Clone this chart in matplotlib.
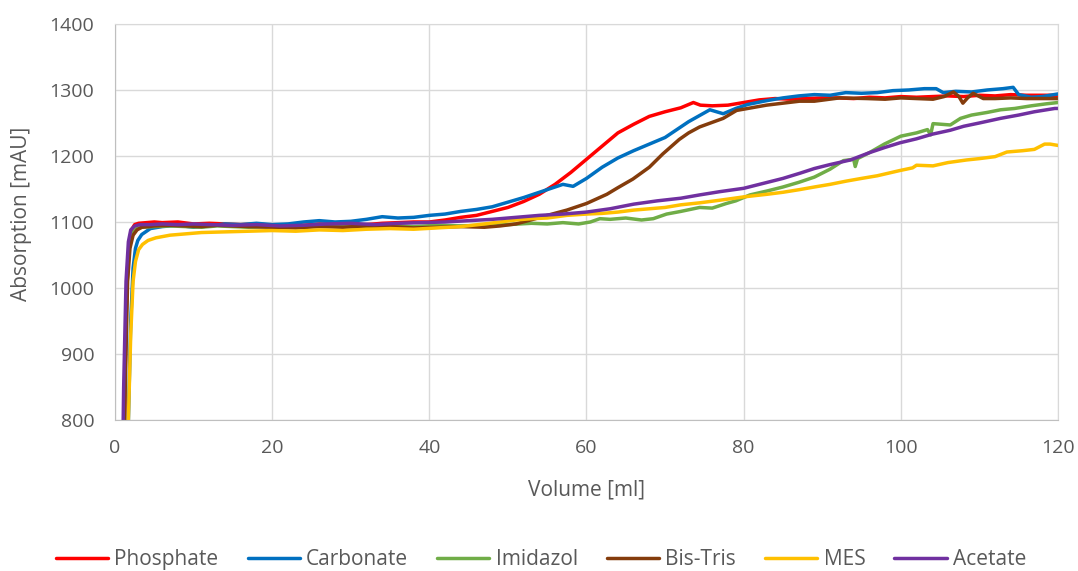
import matplotlib.pyplot as plt

plt.rcParams['font.family'] = ['Open Sans', 'DejaVu Sans']

# volumes [ml] and absorptions [mAU]
phos_x = [0.9, 1.2, 1.4, 1.6, 1.8, 2.1, 2.5, 3, 4, 5, 6, 8, 10, 12, 14, 16, 18, 20, 22, 24, 26, 28, 30,
          32, 34, 36, 38, 40, 42, 44, 46, 48, 50, 52, 54, 56, 58, 60, 62, 64, 66, 68, 70, 72, 73.6, 74.5,
          76, 78, 80, 82, 84, 86, 88, 90, 92, 94, 96, 98, 100, 102, 104, 106, 108, 110, 112, 114, 116,
          118, 120]
phos_y = [600, 800, 950, 1030, 1062, 1088, 1096, 1098, 1099, 1100, 1099, 1100, 1097, 1098, 1097, 1096,
          1097, 1095, 1096, 1095, 1097, 1096, 1095, 1096, 1098, 1099, 1100, 1100, 1103, 1107, 1110, 1116,
          1122, 1131, 1142, 1157, 1175, 1195, 1215, 1235, 1248, 1260, 1267, 1273, 1281, 1277, 1276, 1277,
          1281, 1285, 1287, 1286, 1287, 1288, 1288, 1287, 1289, 1288, 1290, 1289, 1290, 1291, 1290, 1292,
          1291, 1293, 1292, 1292, 1292]

carb_x = [1.3, 1.7, 2.0, 2.3, 2.6, 2.9, 3.4, 4.5, 6, 8, 10, 12, 14, 16, 18, 20, 22, 24, 26, 28, 30, 32,
          34, 36, 38, 40, 42, 44, 46, 48, 50, 52, 54, 56, 57, 58.3, 60, 62, 64, 66, 68, 70, 71.5, 73,
          74.5, 75.7, 77.4, 79, 80.5, 83, 85, 87, 89, 91, 93, 95, 97, 99, 101, 103, 104.5, 105.4, 107,
          109, 111, 113, 114.3, 115, 116.6, 118, 120]
carb_y = [600, 800, 950, 1030, 1060, 1072, 1081, 1090, 1093, 1095, 1092, 1094, 1097, 1096, 1098, 1096,
          1097, 1100, 1102, 1100, 1101, 1104, 1108, 1106, 1107, 1110, 1112, 1116, 1119, 1123, 1130, 1137,
          1145, 1153, 1157, 1154, 1166, 1183, 1197, 1208, 1218, 1228, 1240, 1252, 1262, 1270, 1264, 1272,
          1278, 1284, 1288, 1291, 1293, 1292, 1296, 1295, 1296, 1299, 1300, 1302, 1302, 1296, 1298, 1297,
          1300, 1302, 1304, 1293, 1289, 1290, 1294]

imid_x = [0.9, 1.2, 1.5, 1.8, 2.2, 2.7, 3.5, 5, 7, 9, 11, 13, 15, 17, 20, 23, 26, 29, 32, 35, 38, 41,
          44, 47, 50, 53, 55, 57, 59, 60.5, 61.7, 63, 65, 67, 68.5, 70.2, 72, 74.4, 76, 77.8, 79, 80.8,
          83, 85, 87, 89, 91, 92.7, 94, 94.2, 94.5, 96, 97.9, 100, 102, 103.4, 103.8, 104.1, 106.3,
          107.6, 109, 111, 112.7, 114.5, 116.6, 118.5, 120]
imid_y = [600, 850, 1000, 1060, 1082, 1090, 1092, 1093, 1094, 1093, 1092, 1094, 1093, 1092, 1093, 1092,
          1094, 1093, 1092, 1094, 1093, 1095, 1094, 1095, 1096, 1098, 1097, 1099, 1097, 1100, 1105, 1104,
          1106, 1103, 1105, 1112, 1116, 1122, 1121, 1128, 1132, 1141, 1147, 1153, 1160, 1168, 1180, 1193,
          1195, 1184, 1196, 1205, 1218, 1230, 1235, 1240, 1232, 1249, 1247, 1257, 1262, 1266, 1270, 1272,
          1276, 1279, 1281]

bis_x = [1.0, 1.3, 1.6, 1.9, 2.3, 2.8, 3.4, 5, 7, 9, 11, 13, 15, 17, 20, 23, 26, 29, 32, 35, 38, 41, 44,
         47, 49, 51, 53.2, 55, 57.5, 60, 62.6, 64, 65.9, 68, 69.7, 71.8, 73, 74.4, 77.4, 79.1, 81, 82.9,
         85, 87.1, 89, 92.2, 95.7, 98, 100, 102, 104.1, 105.5, 106.7, 107.4, 107.9, 108.5, 109.2, 110.5,
         112, 114, 116, 118, 120]
bis_y = [600, 850, 1010, 1060, 1080, 1088, 1092, 1094, 1095, 1094, 1093, 1095, 1094, 1093, 1092, 1091,
         1093, 1092, 1094, 1093, 1091, 1092, 1093, 1092, 1094, 1097, 1104, 1110, 1118, 1128, 1142, 1152,
         1165, 1183, 1203, 1225, 1235, 1244, 1257, 1269, 1273, 1277, 1280, 1283, 1283, 1288, 1287, 1286,
         1288, 1287, 1286, 1290, 1297, 1290, 1280, 1288, 1295, 1287, 1287, 1288, 1287, 1287, 1287]

mes_x = [1.4, 1.7, 2.0, 2.3, 2.6, 3.0, 3.5, 4.2, 5.2, 7, 9, 11, 14, 17, 20, 23, 26, 29, 32, 35, 38, 41,
         44, 47, 49, 51, 53, 55, 57.5, 60, 62, 64, 66, 68, 70, 72, 74.4, 77, 80, 83, 85, 87.1, 89, 91,
         93.1, 95, 97, 99.9, 101.5, 102, 104.1, 106, 108.4, 110, 112, 113.5, 115.5, 117, 118.3, 119, 120]
mes_y = [600, 800, 930, 1010, 1040, 1058, 1066, 1072, 1076, 1080, 1082, 1084, 1085, 1086, 1087, 1086,
         1088, 1087, 1089, 1090, 1089, 1091, 1093, 1097, 1100, 1103, 1105, 1106, 1110, 1112, 1113, 1115,
         1118, 1120, 1122, 1126, 1129, 1133, 1138, 1142, 1145, 1149, 1153, 1157, 1162, 1166, 1170, 1178,
         1182, 1186, 1185, 1190, 1194, 1196, 1199, 1206, 1208, 1210, 1218, 1218, 1216]

acet_x = [0.8, 1.1, 1.4, 1.7, 2.0, 2.5, 3.2, 4.5, 6, 8, 10, 12, 15, 18, 21, 24, 27, 30, 33, 36, 39, 42,
          45, 48, 51, 54, 57, 60, 63, 66, 69, 72, 74.4, 77, 80, 83, 85, 87.2, 89, 91, 93.6, 96, 98, 99.9,
          102, 104, 106.3, 108, 110, 112.7, 115, 117, 119.6, 120]
acet_y = [600, 850, 1010, 1070, 1088, 1094, 1096, 1096, 1097, 1096, 1097, 1096, 1095, 1096, 1094, 1095,
          1097, 1098, 1096, 1098, 1099, 1100, 1102, 1104, 1107, 1110, 1112, 1115, 1120, 1127, 1132, 1136,
          1141, 1146, 1151, 1160, 1166, 1174, 1181, 1187, 1194, 1205, 1213, 1220, 1226, 1233, 1239, 1245,
          1250, 1257, 1262, 1267, 1272, 1272]

series = [
    ("Phosphate", phos_x, phos_y, "#FF0000"),
    ("Carbonate", carb_x, carb_y, "#0070C0"),
    ("Imidazol", imid_x, imid_y, "#70AD47"),
    ("Bis-Tris", bis_x, bis_y, "#843C0C"),
    ("MES", mes_x, mes_y, "#FFC000"),
    ("Acetate", acet_x, acet_y, "#7030A0"),
]

fig = plt.figure(figsize=(10.78, 5.71), dpi=100)
ax = fig.add_axes([0.1067, 0.2645, 0.8747, 0.6935])

for name, xs, ys, col in series:
    ax.plot(xs, ys, color=col, lw=2.5, label=name, solid_capstyle='round')

ax.set_xlim(0, 120)
ax.set_ylim(800, 1400)
ax.set_xticks(range(0, 121, 20))
ax.set_yticks(range(800, 1401, 100))
ax.grid(True, color='#d9d9d9', lw=1)
ax.set_axisbelow(True)
for sp in ax.spines.values():
    sp.set_color('#d9d9d9')
ax.spines['left'].set_color('#bfbfbf')
ax.spines['bottom'].set_color('#bfbfbf')
ax.tick_params(length=0, labelsize=14, labelcolor='#595959')
ax.tick_params(axis='x', pad=14)
ax.tick_params(axis='y', pad=15)

ax.set_xlabel("Volume [ml]", fontsize=15, color='#595959')
ax.set_ylabel("Absorption [mAU]", fontsize=15, color='#595959')
ax.xaxis.set_label_coords(0.4995, -0.15)
ax.yaxis.set_label_coords(-0.088, 0.52)

fig.legend(loc='center', bbox_to_anchor=(0.502, 0.02), ncol=6, frameon=False,
           fontsize=15, labelcolor='#595959', handlelength=2.5, handletextpad=0.3,
           columnspacing=1.4)

fig.savefig("out.png", dpi=100)
